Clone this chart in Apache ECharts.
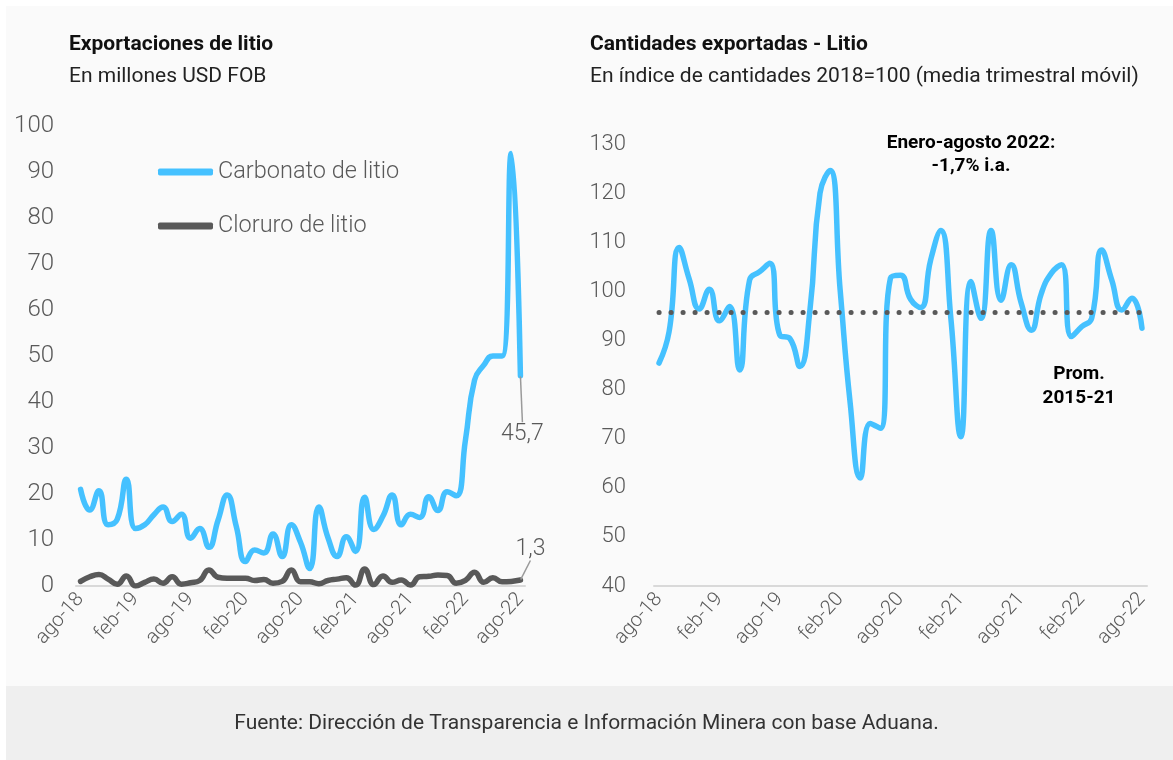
<!DOCTYPE html>
<html>
<head>
<meta charset="utf-8">
<script src="https://cdn.jsdelivr.net/npm/echarts@6/dist/echarts.min.js"></script>
<style>
  html, body { margin: 0; padding: 0; background: #fff; }
  #chart { width: 1173px; height: 760px; }
</style>
</head>
<body>
<div id="chart"></div>
<script>
var months = ['ago-18','sep-18','oct-18','nov-18','dic-18',
  'ene-19','feb-19','mar-19','abr-19','may-19','jun-19','jul-19','ago-19','sep-19','oct-19','nov-19','dic-19',
  'ene-20','feb-20','mar-20','abr-20','may-20','jun-20','jul-20','ago-20','sep-20','oct-20','nov-20','dic-20',
  'ene-21','feb-21','mar-21','abr-21','may-21','jun-21','jul-21','ago-21','sep-21','oct-21','nov-21','dic-21',
  'ene-22','feb-22','mar-22','abr-22','may-22','jun-22','jul-22','ago-22'];

// Exportaciones, millones USD FOB
var carbonato = [21, 16.5, 20.7, 13.3, 14.5, 23.2, 12.5, 13.3, 15.5, 17.2,
  14.0, 15.6, 10.4, 12.5, 8.4, 14.3, 19.8, 12.9, 5.3, 7.8,
  7.2, 11.3, 6.4, 13.3, 9.5, 3.8, 17.2, 10.5, 6.4, 10.7,
  7.5, 19.3, 12.3, 15.2, 19.8, 13.3, 15.6, 14.9, 19.4, 16.4,
  20.5, 19.6, 31.7, 44.8, 48, 50, 50, 94, 45.7];
var cloruro = [1.0, 2.0, 2.5, 1.5, 0.4, 2.2, 0, 0.8, 1.5, 0.6,
  2.0, 0.4, 0.7, 1.2, 3.5, 1.9, 1.7, 1.7, 1.7, 1.2,
  1.4, 0.6, 1.0, 3.5, 0.9, 0.9, 0.5, 1.2, 1.5, 1.8,
  0.2, 3.7, 0.3, 2.2, 0.8, 1.3, 0.2, 2.0, 2.1, 2.4,
  2.3, 0.6, 1.2, 3.0, 0.8, 1.8, 0.9, 1.0, 1.3];

// Indice de cantidades 2018=100 (media trimestral movil)
var cantidades = [85.4, 91.8, 108.9, 102.5, 96.4, 100.4, 94.0, 96.9, 84.0, 102.3,
  104.0, 105.7, 91.1, 90.4, 84.7, 96.2, 120, 124.6, 100.3, 77.2,
  62, 73.1, 72.1, 102.7, 103.3, 98.4, 96.7, 106.4, 112.4, 94.6,
  70.4, 102, 94.5, 112.4, 98.2, 105.4, 97.6, 92.1, 99.6, 103.7,
  105.4, 90.8, 92.8, 94.5, 108.4, 102.3, 96.2, 98.6, 92.5];
var promedio = 95.7;

var blue = '#45c1ff';
var gray = '#595959';
var txt = '#595959';
var font = 'Roboto';

// only the last point gets a symbol, so its label can be drawn
function lastLabel(arr, pos) {
  return arr.map(function (v, i) {
    if (i < arr.length - 1) return v;
    return {
      value: v,
      symbol: 'circle', symbolSize: 1,
      label: {
        show: true, position: pos,
        formatter: String(v).replace('.', ','),
        color: txt, fontSize: 23, fontWeight: 300, fontFamily: font
      },
      labelLine: { show: true, lineStyle: { color: '#9a9a9a', width: 1.5 } }
    };
  });
}

function xAx(idx) {
  return {
    type: 'category', gridIndex: idx, data: months,
    axisLine: { lineStyle: { color: '#d9d9d9', width: 2 } },
    axisTick: { interval: 5, length: 6, lineStyle: { color: '#d9d9d9', width: 2 } },
    axisLabel: { interval: 5, rotate: 48, margin: 10, color: txt, fontSize: 20, fontWeight: 300, fontFamily: font }
  };
}

var chart = echarts.init(document.getElementById('chart'));
chart.setOption({
  animation: false,
  textStyle: { fontFamily: font },
  graphic: [
    { type: 'rect', silent: true, z: -10, shape: { x: 6, y: 6, width: 1167, height: 680 }, style: { fill: '#fafafa' } },
    { type: 'rect', silent: true, z: -10, shape: { x: 6, y: 686, width: 1167, height: 74 }, style: { fill: '#efefef' } },
    { type: 'text', x: 971, y: 155, style: { text: 'Enero-agosto 2022:\n-1,7% i.a.', textAlign: 'center', textVerticalAlign: 'middle',
        font: 'bold 19px Roboto', lineHeight: 23, fill: '#000' } },
    { type: 'text', x: 1079, y: 386, style: { text: 'Prom.\n2015-21', textAlign: 'center', textVerticalAlign: 'middle',
        font: 'bold 19px Roboto', lineHeight: 24, fill: '#000' } }
  ],
  title: [
    { text: 'Exportaciones de litio', left: 69, top: 34, padding: 0,
      textStyle: { fontSize: 21, fontWeight: 'bold', color: '#111', fontFamily: font } },
    { text: 'En millones USD FOB', left: 69, top: 66, padding: 0,
      textStyle: { fontSize: 21, fontWeight: 'normal', color: '#222', fontFamily: font } },
    { text: 'Cantidades exportadas - Litio', left: 590, top: 34, padding: 0,
      textStyle: { fontSize: 21, fontWeight: 'bold', color: '#111', fontFamily: font } },
    { text: 'En índice de cantidades 2018=100 (media trimestral móvil)', left: 590, top: 66, padding: 0,
      textStyle: { fontSize: 21, fontWeight: 'normal', color: '#222', fontFamily: font } },
    { text: 'Fuente: Dirección de Transparencia e Información Minera con base Aduana.', left: 'center', top: 713, padding: 0,
      textStyle: { fontSize: 21, fontWeight: 'normal', color: '#333', fontFamily: font } }
  ],
  legend: {
    orient: 'vertical', left: 158, top: 160, padding: 0, itemGap: 30,
    itemWidth: 55, itemHeight: 7, icon: 'roundRect',
    textStyle: { fontSize: 23.5, fontWeight: 300, color: txt, fontFamily: font },
    data: ['Carbonato de litio', 'Cloruro de litio']
  },
  grid: [
    { left: 76, top: 126, width: 449, height: 460 },
    { left: 654, top: 144, width: 493, height: 442 }
  ],
  xAxis: [xAx(0), xAx(1)],
  yAxis: [
    { type: 'value', gridIndex: 0, min: 0, max: 100, interval: 10,
      splitLine: { show: false }, axisLine: { show: false }, axisTick: { show: false },
      axisLabel: { margin: 22, color: txt, fontSize: 24, fontWeight: 300, fontFamily: font } },
    { type: 'value', gridIndex: 1, min: 40, max: 130, interval: 10,
      splitLine: { show: false }, axisLine: { show: false }, axisTick: { show: false },
      axisLabel: { margin: 28, color: txt, fontSize: 22, fontWeight: 300, fontFamily: font } }
  ],
  series: [
    { name: 'Cloruro de litio', type: 'line', xAxisIndex: 0, yAxisIndex: 0,
      data: lastLabel(cloruro, 'top'), smooth: 0.5, symbol: 'none', showSymbol: true,
      lineStyle: { color: gray, width: 5.5, cap: 'round', join: 'round' }, itemStyle: { color: gray },
      labelLayout: { dx: 10, dy: -14 } },
    { name: 'Carbonato de litio', type: 'line', xAxisIndex: 0, yAxisIndex: 0,
      data: lastLabel(carbonato, 'bottom'), smooth: 0.5, symbol: 'none', showSymbol: true,
      lineStyle: { color: blue, width: 5.5, cap: 'round', join: 'round' }, itemStyle: { color: blue },
      labelLayout: { dx: 2, dy: 41 } },
    { name: 'Cantidades', type: 'line', xAxisIndex: 1, yAxisIndex: 1,
      data: cantidades, smooth: 0.5, symbol: 'none', z: 3,
      lineStyle: { color: blue, width: 5.5, cap: 'round', join: 'round' }, itemStyle: { color: blue },
      markLine: {
        silent: true, symbol: 'none', label: { show: false }, z: 4,
        lineStyle: { color: gray, width: 5, type: [0.1, 11.9], cap: 'round' },
        data: [[{ coord: [months[0], promedio] }, { coord: [months[months.length - 1], promedio] }]]
      } }
  ]
});
</script>
</body>
</html>
